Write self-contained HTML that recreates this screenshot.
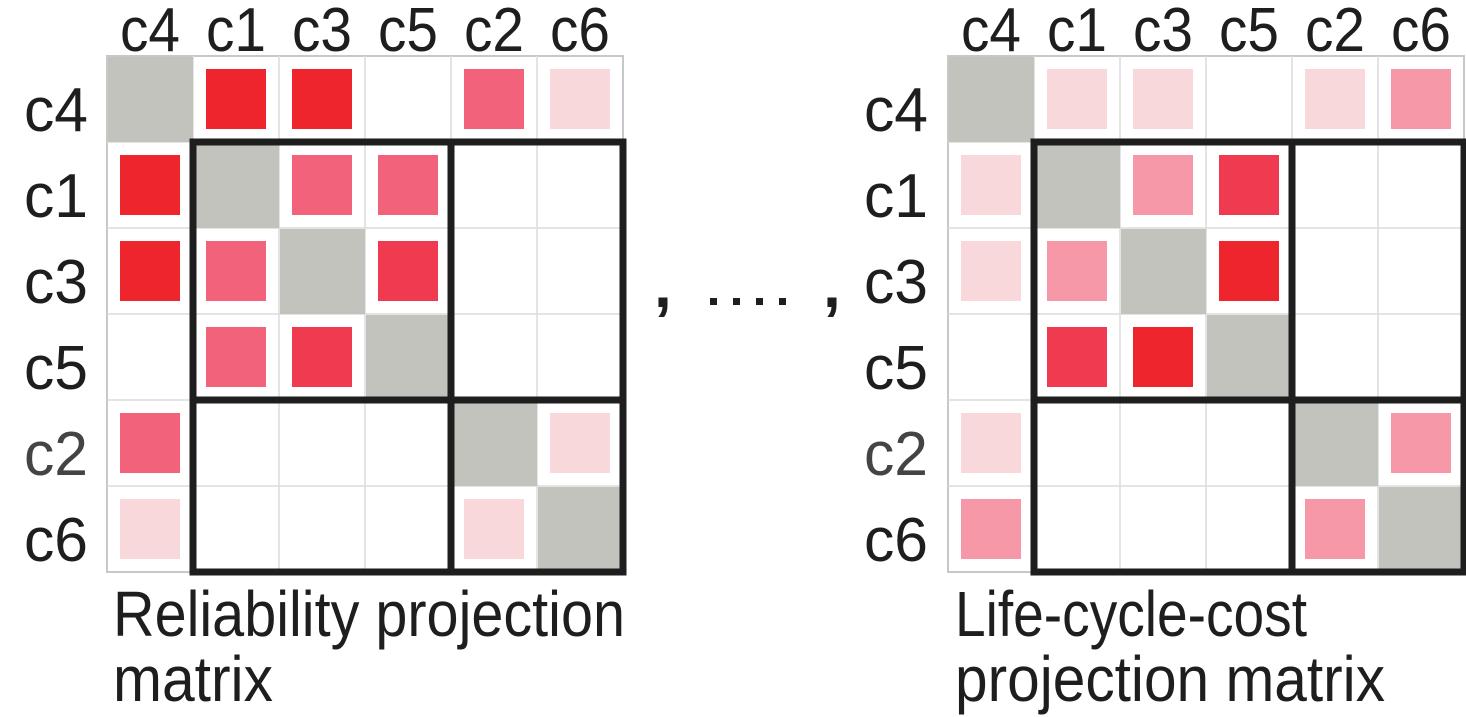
<!DOCTYPE html>
<html><head><meta charset="utf-8"><style>html,body{margin:0;padding:0;background:#fff}svg{display:block}</style></head>
<body>
<svg xmlns="http://www.w3.org/2000/svg" width="1466" height="717" viewBox="0 0 1466 717" font-family="'Liberation Sans', 'DejaVu Sans', sans-serif" fill="#1e1e1e">
</svg>
<script>
(function(){
var NS="http://www.w3.org/2000/svg";
var svg=document.querySelector('svg');
function el(t,a,txt){var e=document.createElementNS(NS,t);for(var k in a)e.setAttribute(k,a[k]);if(txt!=null)e.textContent=txt;svg.appendChild(e);return e;}
var C={R:'#ee252d',M:'#f2637b',D:'#f03a50',L:'#f9d8dc',P:'#f698a8'};
var labels=['c4','c1','c3','c5','c2','c6'];
function matrix(x0,y0,cw,data,rowLabelX){
  var W=cw*6;
  el('rect',{x:x0,y:y0,width:W,height:W,fill:'#fff',stroke:'#c8c8c8','stroke-width':2});
  for(var i=1;i<6;i++){
    el('line',{x1:x0+i*cw,y1:y0,x2:x0+i*cw,y2:y0+W,stroke:'#dcdcdc','stroke-width':1.5});
    el('line',{x1:x0,y1:y0+i*cw,x2:x0+W,y2:y0+i*cw,stroke:'#dcdcdc','stroke-width':1.5});
  }
  for(var r=0;r<6;r++){
    for(var c=0;c<6;c++){
      var x=x0+c*cw,y=y0+r*cw;
      if(r==c){el('rect',{x:x+1,y:y+1,width:cw-1,height:cw-1,fill:'#c3c3be'});continue;}
      var v=data[r][c];
      if(v!='-'){el('rect',{x:x+13,y:y+13,width:cw-26,height:cw-26,fill:C[v]});}
    }
  }
  var s={fill:'none',stroke:'#1e1e1e','stroke-width':7};
  el('rect',Object.assign({x:x0+cw,y:y0+cw,width:cw*5,height:cw*5},s));
  el('line',{x1:x0+4*cw,y1:y0+cw,x2:x0+4*cw,y2:y0+6*cw,stroke:'#1e1e1e','stroke-width':7});
  el('line',{x1:x0+cw,y1:y0+4*cw,x2:x0+6*cw,y2:y0+4*cw,stroke:'#1e1e1e','stroke-width':7});
  for(var i=0;i<6;i++){
    el('text',{x:x0+i*cw+cw/2,y:51,'font-size':62,'text-anchor':'middle',textLength:60,lengthAdjust:'spacingAndGlyphs'},labels[i]);
    el('text',{x:rowLabelX,y:y0+i*cw+cw/2+32,'font-size':62,'text-anchor':'end',textLength:64,lengthAdjust:'spacingAndGlyphs',fill:i==4?'#444':'#1e1e1e'},labels[i]);
  }
}
var left=[['g','R','R','-','M','L'],['R','g','M','M','-','-'],['R','M','g','D','-','-'],['-','M','D','g','-','-'],['M','-','-','-','g','L'],['L','-','-','-','L','g']];
var right=[['g','L','L','-','L','P'],['L','g','P','D','-','-'],['L','P','g','R','-','-'],['-','D','R','g','-','-'],['L','-','-','-','g','P'],['P','-','-','-','P','g']];
matrix(107,56,86,left,88);
matrix(948,56,86,right,928);
function t(x,y,s,len){el('text',{x:x,y:y,'font-size':64,textLength:len,lengthAdjust:'spacingAndGlyphs'},s);}
t(113,636,'Reliability projection',512);
t(113,701,'matrix',160);
t(955,636,'Life-cycle-cost',352);
t(955,701,'projection matrix',430);
el('text',{x:654,y:307,'font-size':64,'font-weight':'bold'},',');
el('text',{x:823,y:307,'font-size':64,'font-weight':'bold'},',');
[710,733,756,779].forEach(function(x){el('rect',{x:x,y:298,width:7,height:7,fill:'#1e1e1e'});});
})();
</script>
</body></html>
